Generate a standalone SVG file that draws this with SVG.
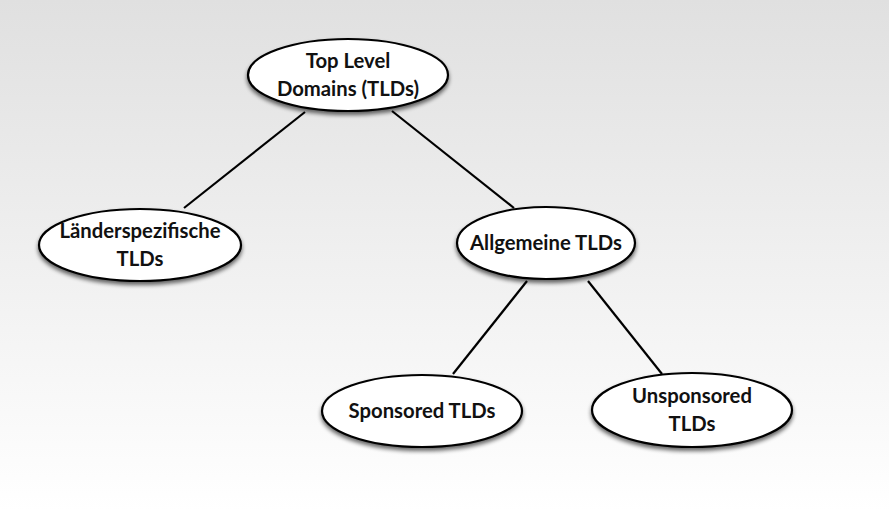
<svg xmlns="http://www.w3.org/2000/svg" width="889" height="511" viewBox="0 0 889 511">
<defs>
<linearGradient id="bg" x1="0" y1="0" x2="0" y2="1">
<stop offset="0" stop-color="#e0e0e0"/>
<stop offset="1" stop-color="#ffffff"/>
</linearGradient>
<filter id="sh" x="-20%" y="-20%" width="140%" height="150%">
<feGaussianBlur in="SourceAlpha" stdDeviation="2"/>
<feOffset dx="0" dy="3" result="b"/>
<feComponentTransfer><feFuncA type="linear" slope="0.6"/></feComponentTransfer>
<feMerge><feMergeNode/><feMergeNode in="SourceGraphic"/></feMerge>
</filter>
</defs>
<style>
.n ellipse{fill:#fff;stroke:#000;stroke-width:2.2;filter:url(#sh)}
.n text{font-family:Lato,"Open Sans","Liberation Sans",sans-serif;font-size:20.3px;font-weight:bold;fill:#111;text-anchor:middle}
.c line{stroke:#000;stroke-width:2.2}
</style>
<rect width="889" height="511" fill="url(#bg)"/>
<g class="c" id="connectors">
<line x1="305" y1="112" x2="184" y2="208"/>
<line x1="392" y1="111" x2="514" y2="208"/>
<line x1="527" y1="281" x2="453" y2="374"/>
<line x1="588" y1="281" x2="662" y2="374"/>
</g>
<g class="n" id="top">
<ellipse cx="348" cy="75" rx="100" ry="36"/>
<text x="348" y="68">Top Level</text>
<text x="348" y="96">Domains (TLDs)</text>
</g>
<g class="n" id="laender">
<ellipse cx="140" cy="245" rx="101" ry="36"/>
<text x="140" y="238">Länderspezifische</text>
<text x="140" y="266">TLDs</text>
</g>
<g class="n" id="allgemeine">
<ellipse cx="546" cy="243" rx="89" ry="36"/>
<text x="546" y="250">Allgemeine TLDs</text>
</g>
<g class="n" id="sponsored">
<ellipse cx="422" cy="411" rx="100" ry="36"/>
<text x="422" y="418">Sponsored TLDs</text>
</g>
<g class="n" id="unsponsored">
<ellipse cx="692" cy="410" rx="100" ry="37"/>
<text x="692" y="403">Unsponsored</text>
<text x="692" y="431">TLDs</text>
</g>
</svg>
